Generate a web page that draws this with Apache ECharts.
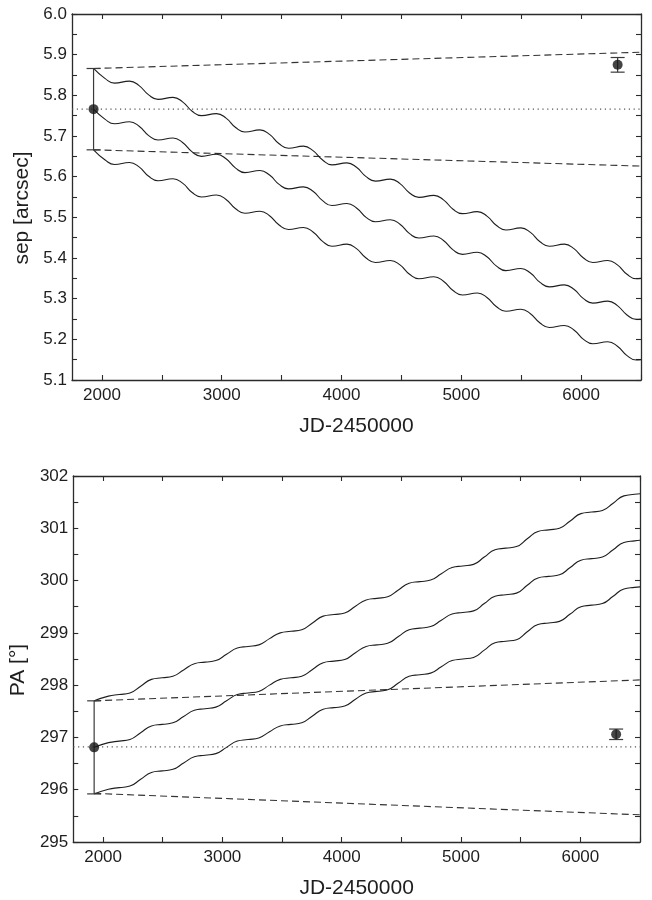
<!DOCTYPE html>
<html>
<head>
<meta charset="utf-8">
<script src="https://cdn.jsdelivr.net/npm/echarts@6/dist/echarts.min.js"></script>
<style>
    html, body { margin: 0; padding: 0; background: #fff; }
    #chart { width: 652px; height: 900px; }
</style>
</head>
<body>
<div id="chart"></div>
<script>
// ---- data ----
// top panel: separation [arcsec]
const sepDays = [1930, 2027,
    2105, 2230, 2310, 2390, 2468, 2593, 2673, 2753, 2831, 2956, 3036, 3116,
    3194, 3319, 3399, 3479, 3557, 3682, 3762, 3842, 3920, 4045, 4125, 4205,
    4283, 4408, 4488, 4568, 4646, 4771, 4851, 4931, 5009, 5134, 5214, 5294,
    5372, 5497, 5577, 5657, 5735, 5860, 5940, 6020, 6098, 6223, 6303, 6383,
    6461, 6500];
const sepUpper = [5.866, 5.841,
    5.830, 5.835, 5.824, 5.801, 5.790, 5.795, 5.784, 5.761, 5.750, 5.755, 5.744, 5.721,
    5.710, 5.715, 5.704, 5.681, 5.670, 5.675, 5.664, 5.641, 5.629, 5.634, 5.623, 5.600,
    5.589, 5.594, 5.583, 5.560, 5.549, 5.554, 5.543, 5.520, 5.509, 5.514, 5.503, 5.480,
    5.469, 5.474, 5.463, 5.440, 5.429, 5.434, 5.423, 5.400, 5.389, 5.394, 5.383, 5.360,
    5.349, 5.350];
const sepMid = [5.766, 5.741,
    5.730, 5.735, 5.724, 5.701, 5.690, 5.695, 5.684, 5.661, 5.650, 5.655, 5.644, 5.621,
    5.610, 5.615, 5.604, 5.581, 5.570, 5.575, 5.564, 5.541, 5.529, 5.534, 5.523, 5.500,
    5.489, 5.494, 5.483, 5.460, 5.449, 5.454, 5.443, 5.420, 5.409, 5.414, 5.403, 5.380,
    5.369, 5.374, 5.363, 5.340, 5.329, 5.334, 5.323, 5.300, 5.289, 5.294, 5.283, 5.260,
    5.249, 5.250];
const sepLower = [5.666, 5.641,
    5.630, 5.635, 5.624, 5.601, 5.590, 5.595, 5.584, 5.561, 5.550, 5.555, 5.544, 5.521,
    5.510, 5.515, 5.504, 5.481, 5.470, 5.475, 5.464, 5.441, 5.429, 5.434, 5.423, 5.400,
    5.389, 5.394, 5.383, 5.360, 5.349, 5.354, 5.343, 5.320, 5.309, 5.314, 5.303, 5.280,
    5.269, 5.274, 5.263, 5.240, 5.229, 5.234, 5.223, 5.200, 5.189, 5.194, 5.183, 5.160,
    5.149, 5.150];
const sepBoundDays = [1930, 6500];
const sepBoundHigh = [5.866, 5.906];
const sepBoundLow = [5.666, 5.626];
const sepRefDays = [1750, 6500];
const sepRef = [5.766, 5.766];
// [day, value, error]
const sepObs = [[1930, 5.766, 0.100], [6305, 5.875, 0.018]];

// bottom panel: position angle [deg]
const paDays = [1925, 2045,
    2135, 2225, 2315, 2405, 2495, 2585, 2675, 2765, 2855, 2945, 3035, 3125,
    3215, 3305, 3395, 3485, 3575, 3665, 3755, 3845, 3935, 4025, 4115, 4205,
    4295, 4385, 4475, 4565, 4655, 4745, 4835, 4925, 5015, 5105, 5195, 5285,
    5375, 5465, 5555, 5645, 5735, 5825, 5915, 6005, 6095, 6185, 6275, 6365,
    6455, 6500];
const paUpper = [297.70, 297.79,
    297.82, 297.85, 297.98, 298.11, 298.14, 298.17, 298.29, 298.41, 298.44, 298.47, 298.59, 298.71,
    298.74, 298.77, 298.89, 299.00, 299.03, 299.06, 299.19, 299.32, 299.35, 299.38, 299.51, 299.63,
    299.66, 299.69, 299.82, 299.95, 299.98, 300.01, 300.13, 300.25, 300.28, 300.31, 300.45, 300.59,
    300.62, 300.65, 300.80, 300.94, 300.97, 301.00, 301.14, 301.28, 301.31, 301.34, 301.48, 301.62,
    301.65, 301.66];
const paMid = [296.81, 296.90,
    296.93, 296.96, 297.09, 297.22, 297.25, 297.28, 297.40, 297.52, 297.55, 297.58, 297.70, 297.82,
    297.85, 297.88, 298.00, 298.11, 298.14, 298.17, 298.30, 298.43, 298.46, 298.49, 298.62, 298.74,
    298.77, 298.80, 298.93, 299.06, 299.09, 299.12, 299.24, 299.36, 299.39, 299.42, 299.56, 299.70,
    299.73, 299.76, 299.91, 300.05, 300.08, 300.11, 300.25, 300.39, 300.42, 300.45, 300.59, 300.73,
    300.76, 300.77];
const paLower = [295.92, 296.01,
    296.04, 296.07, 296.20, 296.33, 296.36, 296.39, 296.51, 296.63, 296.66, 296.69, 296.81, 296.93,
    296.96, 296.99, 297.11, 297.22, 297.25, 297.28, 297.41, 297.54, 297.57, 297.60, 297.73, 297.85,
    297.88, 297.91, 298.04, 298.17, 298.20, 298.23, 298.35, 298.47, 298.50, 298.53, 298.67, 298.81,
    298.84, 298.87, 299.02, 299.16, 299.19, 299.22, 299.36, 299.50, 299.53, 299.56, 299.70, 299.84,
    299.87, 299.88];
const paBoundDays = [1925, 6500];
const paBoundHigh = [297.70, 298.10];
const paBoundLow = [295.93, 295.52];
const paRefDays = [1750, 6500];
const paRef = [296.82, 296.82];
const paObs = [[1925, 296.81, 0.89], [6300, 297.06, 0.10]];

// ticks
const dayLabels = [2000, 3000, 4000, 5000, 6000];
const dayTicks = [2000, 2500, 3000, 3500, 4000, 4500, 5000, 5500, 6000, 6500];
const sepLabels = [5.1, 5.2, 5.3, 5.4, 5.5, 5.6, 5.7, 5.8, 5.9, 6.0];
const sepTicks = [5.1, 5.15, 5.2, 5.25, 5.3, 5.35, 5.4, 5.45, 5.5, 5.55, 5.6, 5.65, 5.7, 5.75, 5.8, 5.85, 5.9, 5.95, 6.0];
const paLabels = [295, 296, 297, 298, 299, 300, 301, 302];
const paTicks = [295, 295.5, 296, 296.5, 297, 297.5, 298, 298.5, 299, 299.5, 300, 300.5, 301, 301.5, 302];

const FONT = '"Liberation Sans", Arial, sans-serif';
const INK = '#1e1e1e';
const FRAME = '#2b2b2b';

function pairs(days, vals) {
    return days.map((d, i) => [d, vals[i]]);
}

function dayAxis(gridIndex, position) {
    const bottom = position === 'bottom';
    return {
        type: 'value', gridIndex: gridIndex, position: position,
        min: 1750, max: 6500,
        axisLine: {show: true, onZero: false, lineStyle: {color: FRAME, width: 1.3}},
        axisTick: {show: true, inside: true, length: 5, customValues: dayTicks,
            lineStyle: {color: FRAME, width: 1.1}},
        axisLabel: {show: bottom, customValues: dayLabels, margin: 7,
            fontSize: 17, color: INK, fontFamily: FONT,
            formatter: v => String(v)},
        splitLine: {show: false},
        name: bottom ? 'JD-2450000' : '',
        nameLocation: 'middle', nameGap: 36,
        nameTextStyle: {fontSize: 21, color: INK, fontFamily: FONT}
    };
}

function valueAxis(gridIndex, position, min, max, labels, ticks, digits, name) {
    const left = position === 'left';
    return {
        type: 'value', gridIndex: gridIndex, position: position,
        min: min, max: max,
        axisLine: {show: true, onZero: false, lineStyle: {color: FRAME, width: 1.3}},
        axisTick: {show: true, inside: true, length: 5, customValues: ticks,
            lineStyle: {color: FRAME, width: 1.1}},
        axisLabel: {show: left, customValues: labels, margin: 5,
            fontSize: 17, color: INK, fontFamily: FONT,
            formatter: v => Number(v).toFixed(digits)},
        splitLine: {show: false},
        name: left ? name : '',
        nameLocation: 'middle', nameGap: 38,
        nameTextStyle: {fontSize: 21, color: INK, fontFamily: FONT, padding: [0, 22, 0, 0]}
    };
}

function curve(axis, days, vals) {
    return {
        type: 'line', xAxisIndex: axis, yAxisIndex: axis,
        data: pairs(days, vals), symbol: 'none', smooth: 0.5,
        lineStyle: {color: INK, width: 1.1}, silent: true, z: 3
    };
}

function guide(axis, days, vals, dash, color) {
    return {
        type: 'line', xAxisIndex: axis, yAxisIndex: axis,
        data: pairs(days, vals), symbol: 'none',
        lineStyle: {color: color, width: 1.1, type: dash}, silent: true, z: 2
    };
}

function errorBars(axis, obs) {
    return {
        type: 'custom', xAxisIndex: axis, yAxisIndex: axis,
        data: obs, encode: {x: 0, y: 1}, silent: true, z: 4,
        renderItem: function (params, api) {
            const x = api.value(0), y = api.value(1), e = api.value(2);
            const hi = api.coord([x, y + e]);
            const lo = api.coord([x, y - e]);
            const half = 7;
            const st = {stroke: '#3a3a3a', lineWidth: 1.2};
            return {
                type: 'group',
                children: [
                    {type: 'line', shape: {x1: hi[0], y1: hi[1], x2: lo[0], y2: lo[1]}, style: st},
                    {type: 'line', shape: {x1: hi[0] - half, y1: hi[1], x2: hi[0] + half, y2: hi[1]}, style: st},
                    {type: 'line', shape: {x1: lo[0] - half, y1: lo[1], x2: lo[0] + half, y2: lo[1]}, style: st}
                ]
            };
        }
    };
}

function points(axis, obs) {
    return {
        type: 'scatter', xAxisIndex: axis, yAxisIndex: axis,
        data: obs.map(o => [o[0], o[1]]), symbol: 'circle', symbolSize: 10,
        itemStyle: {color: '#151515'}, silent: true, z: 5
    };
}

const chart = echarts.init(document.getElementById('chart'));
chart.setOption({
    animation: false,
    backgroundColor: '#fff',
    grid: [
        {left: 72, top: 14, width: 569, height: 366},
        {left: 72, top: 476, width: 568, height: 367}
    ],
    xAxis: [
        dayAxis(0, 'bottom'), dayAxis(0, 'top'),
        dayAxis(1, 'bottom'), dayAxis(1, 'top')
    ],
    yAxis: [
        valueAxis(0, 'left', 5.1, 6.0, sepLabels, sepTicks, 1, 'sep [arcsec]'),
        valueAxis(0, 'right', 5.1, 6.0, sepLabels, sepTicks, 1, ''),
        valueAxis(1, 'left', 295, 302, paLabels, paTicks, 0, 'PA [°]'),
        valueAxis(1, 'right', 295, 302, paLabels, paTicks, 0, '')
    ],
    series: [
        curve(0, sepDays, sepUpper),
        curve(0, sepDays, sepMid),
        curve(0, sepDays, sepLower),
        guide(0, sepBoundDays, sepBoundHigh, [7, 4], '#333'),
        guide(0, sepBoundDays, sepBoundLow, [7, 4], '#333'),
        guide(0, sepRefDays, sepRef, [1.2, 3.6], '#555'),
        errorBars(0, sepObs),
        points(0, sepObs),

        curve(2, paDays, paUpper),
        curve(2, paDays, paMid),
        curve(2, paDays, paLower),
        guide(2, paBoundDays, paBoundHigh, [7, 4], '#333'),
        guide(2, paBoundDays, paBoundLow, [7, 4], '#333'),
        guide(2, paRefDays, paRef, [1.2, 3.6], '#555'),
        errorBars(2, paObs),
        points(2, paObs)
    ]
});
</script>
</body>
</html>
